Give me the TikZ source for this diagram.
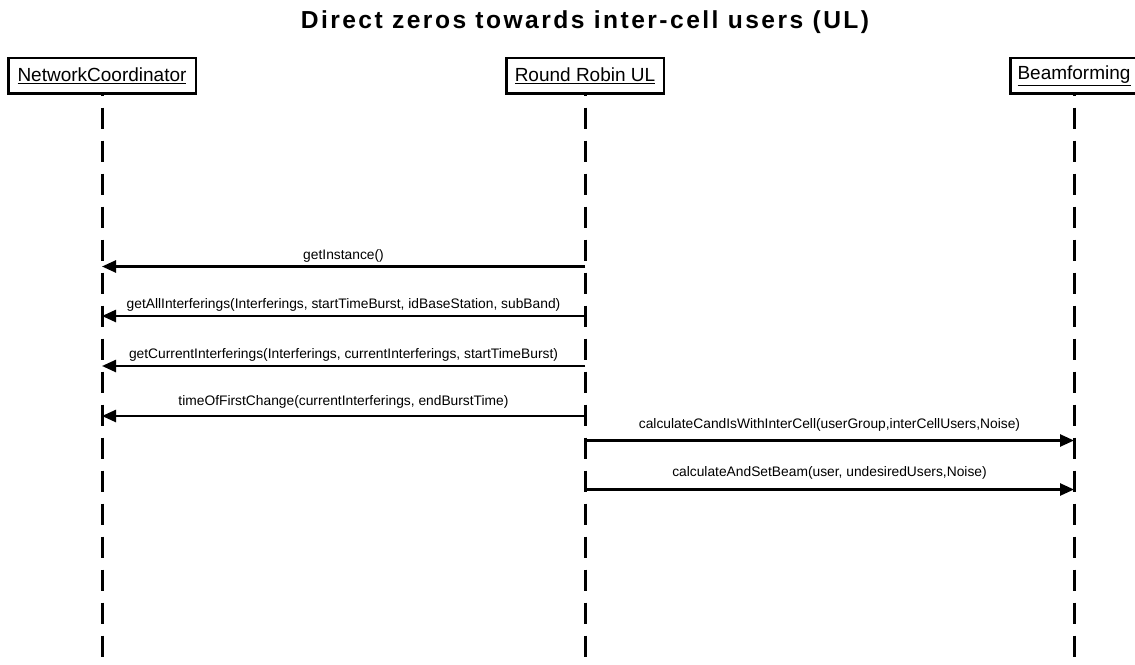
\documentclass[tikz,border=0pt]{standalone}
\usepackage{fontspec}
\setmainfont{Liberation Sans}
\newfontfamily\headfont{Liberation Sans}[LetterSpace=10]
\usetikzlibrary{arrows.meta}
\begin{document}
\begin{tikzpicture}[x=1pt,y=-1pt,
  actor/.style={draw, line width=2.5pt, minimum height=35.5pt, inner sep=0pt,
    font=\fontsize{19}{21}\selectfont},
  lifeline/.style={line width=3pt, dash pattern=on 21pt off 12pt, dash phase=20pt},
  msg/.style={line width=2.5pt, -{Triangle[length=14pt,width=12pt]}},
  lbl/.style={font=\fontsize{13.8}{15}\selectfont, anchor=base, inner sep=0pt}]
\useasboundingbox (0,0) rectangle (1135,664);

% title
\node[font=\headfont\bfseries\fontsize{24.6}{26}\selectfont, anchor=base, inner sep=0pt]
  (title) at (585,28) {Direct zeros towards inter-cell users (UL)};

% participants
\node[actor, minimum width=187.5pt] (nc) at (102,75.5) {\underline{NetworkCoordinator}};
\node[actor, minimum width=157.5pt] (rr) at (585,75.5) {\underline{Round Robin UL}};
\node[actor, minimum width=127.5pt] (bf) at (1074,75.5) {\underline{Beamforming}};

% lifelines
\coordinate (bottom) at (0,670);
\draw[lifeline] (nc.south) -- (nc.south |- bottom);
\draw[lifeline] (rr.south) -- (rr.south |- bottom);
\draw[lifeline] (bf.south) -- (bf.south |- bottom);

% message rows
\coordinate (r1) at (0,266.5);
\coordinate (r2) at (0,316);
\coordinate (r3) at (0,366);
\coordinate (r4) at (0,416);
\coordinate (r5) at (0,440.5);
\coordinate (r6) at (0,489.5);

\draw[msg] (rr |- r1) -- (nc |- r1)
  node[lbl, midway, yshift=7pt] (l1) {getInstance()};
\draw[msg] (rr |- r2) -- (nc |- r2)
  node[lbl, midway, yshift=8pt] (l2) {getAllInterferings(Interferings, startTimeBurst, idBaseStation, subBand)};
\draw[msg] (rr |- r3) -- (nc |- r3)
  node[lbl, midway, yshift=8pt] (l3) {getCurrentInterferings(Interferings, currentInterferings, startTimeBurst)};
\draw[msg] (rr |- r4) -- (nc |- r4)
  node[lbl, midway, yshift=11pt] (l4) {timeOfFirstChange(currentInterferings, endBurstTime)};
\draw[msg] (rr |- r5) -- (bf |- r5)
  node[lbl, midway, yshift=12.5pt] (l5) {calculateCandIsWithInterCell(userGroup,interCellUsers,Noise)};
\draw[msg] (rr |- r6) -- (bf |- r6)
  node[lbl, midway, yshift=13pt] (l6) {calculateAndSetBeam(user, undesiredUsers,Noise)};
\end{tikzpicture}
\end{document}
